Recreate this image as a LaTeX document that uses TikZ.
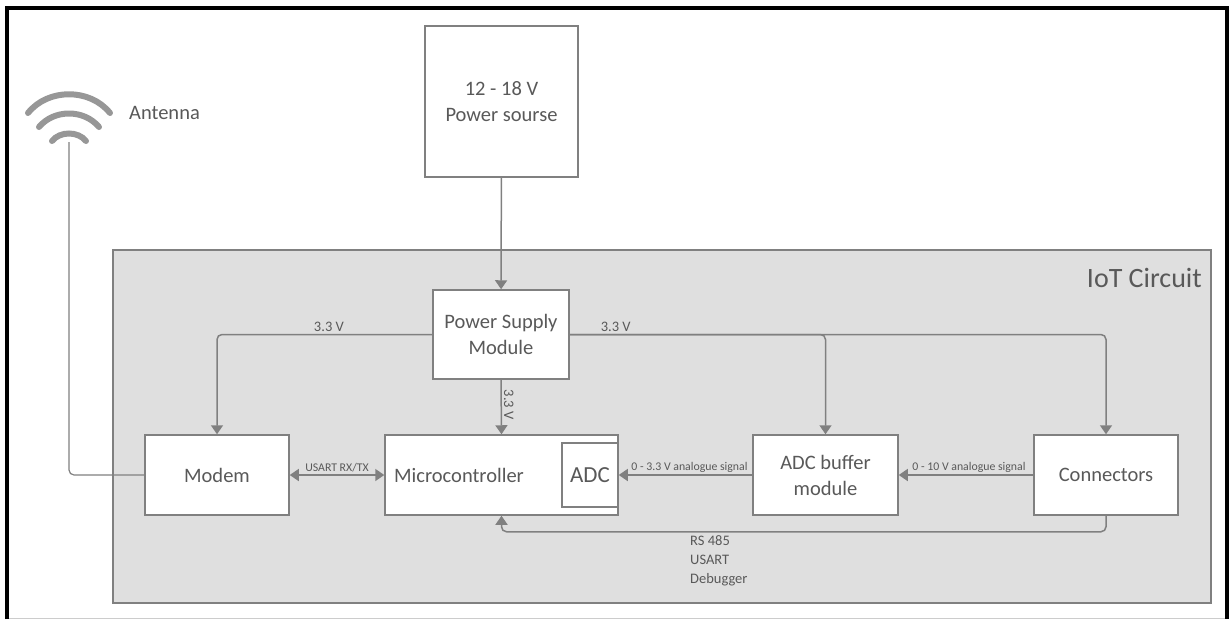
\documentclass[tikz,border=0pt]{standalone}
\usepackage{fontspec}
\setmainfont{Carlito}
\usepackage{xcolor}
\usetikzlibrary{arrows.meta, positioning, calc}
\definecolor{garis}{HTML}{808080}
\definecolor{teks}{HTML}{595959}
\definecolor{latar}{HTML}{DFDFDF}
\definecolor{ikon}{HTML}{979797}
\begin{document}
\begin{tikzpicture}[
    x=1pt, y=-1pt,
    blok/.style={draw=garis, fill=white, line width=1.5pt, align=center, text=teks,
                 inner sep=0pt, font=\fontsize{20.5}{26}\selectfont},
    panah/.style={-{Triangle[length=9pt, width=12pt]}, draw=garis, line width=1.5pt,
                  rounded corners=5pt},
    duapanah/.style={panah, {Triangle[length=9pt, width=12pt]}-{Triangle[length=9pt, width=12pt]}},
    ket/.style={text=teks, inner sep=2pt, font=\fontsize{14.5}{16}\selectfont},
    ketkecil/.style={text=teks, inner sep=2pt, font=\fontsize{11.8}{13}\selectfont},
    gelombang/.style={draw=ikon, line width=6pt, line cap=round}
  ]
    \useasboundingbox (0,0) rectangle (1229,619);
    \fill[white] (0,0) rectangle (1229,619);
    \draw[black!20, line width=1pt] (7,618) -- (1227,618);
    \draw[black, line width=4pt] (7,619) -- (7,8) -- (1227,8) -- (1227,619);

    \node[draw=garis, fill=latar, line width=1.5pt, minimum width=1098pt, minimum height=353pt,
          inner sep=0pt] (iot) at (662,426.5) {};
    \node[anchor=base east, text=teks, inner sep=0pt, font=\fontsize{28}{32}\selectfont]
      (judul) at (1202,287) {IoT Circuit};

    \node[blok, minimum width=153pt, minimum height=151pt] (sumber) at (501.5,101.5)
      {12 - 18 V\\Power sourse};
    \node[blok, minimum width=136pt, minimum height=89pt] (psu) at (501,334.5)
      {Power Supply\\Module};
    \node[blok, minimum width=144pt, minimum height=80pt] (modem) at (217,475) {Modem};
    \node[blok, minimum width=233pt, minimum height=80pt] (mcu) at (501.5,475) {};
    \node[blok, minimum width=56pt, minimum height=64pt, font=\fontsize{23}{26}\selectfont] (adc) at (590,475) {ADC};
    \node[anchor=west, text=teks, inner sep=0pt, font=\fontsize{20.5}{26}\selectfont]
      (mculabel) at (394,475) {Microcontroller};
    \node[blok, minimum width=145pt, minimum height=80pt] (buffer) at (825.5,475)
      {ADC buffer\\module};
    \node[blok, minimum width=144pt, minimum height=80pt] (konektor) at (1106,475) {Connectors};

    % antena
    \draw[gelombang] (28,113) .. controls (48,88) and (90,88) .. (110,113);
    \draw[gelombang] (39,127) .. controls (54,109) and (84,109) .. (99,127);
    \draw[gelombang] (52,141) .. controls (60,131) and (78,131) .. (86,141);
    \coordinate (antena) at (69,142);
    \node[anchor=west, text=teks, inner sep=0pt, font=\fontsize{20.5}{24}\selectfont]
      (antenalabel) at (129,113) {Antenna};
    \draw[draw=garis, line width=1.2pt, rounded corners=5pt] (antena) |- (modem.west);

    \draw[panah] (sumber) -- (psu);
    \draw[panah] (psu.west) -| node[ket, above, pos=.24] (ketkiri) {3.3 V} (modem.north);
    \draw[panah] (psu.east) -| node[ket, above, pos=.09] (ketkanan) {3.3 V} (buffer.north);
    \draw[panah] (psu.east) -| (konektor.north);
    \draw[panah] (psu.south) -- node[ket, rotate=-90, anchor=south, pos=.42, xshift=2pt] (ketbawah) {3.3 V} (mcu.north);
    \draw[duapanah] (modem.east) -- node[ketkecil, above] (ketusart) {USART RX/TX} (mcu.west);
    \draw[panah] (buffer.west) -- node[ketkecil, above, xshift=4pt] (ketadc) {0 - 3.3 V analogue signal} (mcu.east);
    \draw[panah] (konektor.west) -- node[ketkecil, above, xshift=3pt] (ketbuffer) {0 - 10 V analogue signal} (buffer.east);
    \draw[panah] (konektor.south) |- ++(-300,16) -| (mcu.south);
    \node[anchor=north west, text=teks, align=left, inner sep=0pt, font=\fontsize{14.5}{19}\selectfont]
      (ketbus) at (690,535) {RS 485\\USART\\Debugger};
  \end{tikzpicture}
\end{document}
